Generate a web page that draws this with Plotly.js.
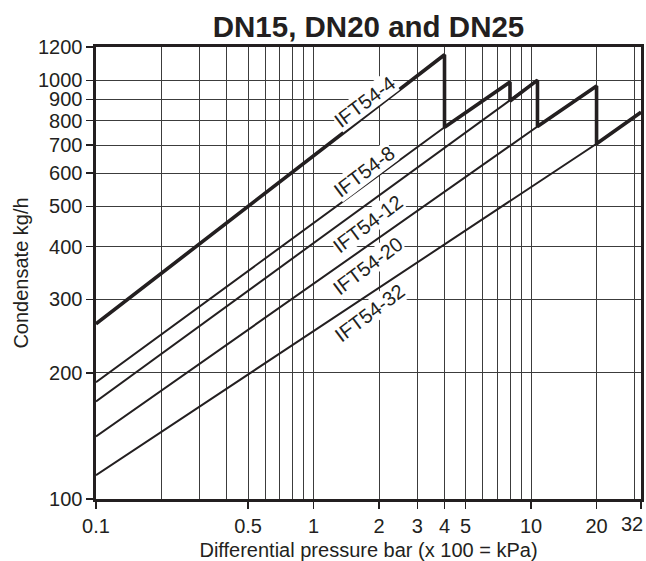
<!DOCTYPE html>
<html>
<head>
<meta charset="utf-8">
<script src="https://cdn.plot.ly/plotly-3.0.1.min.js"></script>
<style>
  html, body { margin: 0; padding: 0; background: #ffffff; }
  #chart { width: 646px; height: 561px; }
</style>
</head>
<body>
<div id="chart"></div>
<script>
// ---- data ----
const models = ['IFT54-4', 'IFT54-8', 'IFT54-12', 'IFT54-20', 'IFT54-32'];
// differential pressure (bar) points along each model's curve
const pressure4  = [0.1, 4];
const pressure8  = [0.1, 4, 8];
const pressure12 = [0.1, 8, 10.7];
const pressure20 = [0.1, 10.7, 20];
const pressure32 = [0.1, 20, 32];
// condensate capacity (kg/h) at those points
const capacity4  = [262, 1150];
const capacity8  = [190, 772, 990];
const capacity12 = [171, 892, 1000];
const capacity20 = [141, 775, 968];
const capacity32 = [114, 705, 838];

const xTickVals = [0.1, 0.5, 1, 2, 3, 4, 5, 10, 20, 32];
const xTickText = ['0.1', '0.5', '1', '2', '3', '4', '5', '10', '20', '32'];
const xGridVals = [0.2, 0.3, 0.4, 0.6, 0.7, 0.8, 0.9, 6, 7, 8, 9, 30];
const yTickVals = [100, 200, 300, 400, 500, 600, 700, 800, 900, 1000, 1200];
const yTickText = ['100', '200', '300', '400', '500', '600', '700', '800', '900', '1000', '1200'];

const pressures = [pressure4, pressure8, pressure12, pressure20, pressure32];
const capacities = [capacity4, capacity8, capacity12, capacity20, capacity32];

// ---- styling ----
const INK = '#231f20';
const GRID = '#3c3c3c';
const FONT = '"Liberation Sans", Arial, Helvetica, sans-serif';

const traces = [];
// thin line for each model
pressures.forEach((px, i) => {
  traces.push({
    x: px, y: capacities[i], type: 'scatter', mode: 'lines',
    name: models[i], line: { color: INK, width: 2 }, hoverinfo: 'x+y+name'
  });
});
// thick envelope: each model from the previous model's limit up to its own limit
const envX = [], envY = [];
pressures.forEach((px, i) => {
  const start = i === 0 ? -Infinity : pressures[i - 1][pressures[i - 1].length - 1];
  px.forEach((p, j) => {
    if (p >= start) { envX.push(p); envY.push(capacities[i][j]); }
  });
});
traces.push({
  x: envX, y: envY, type: 'scatter', mode: 'lines', name: 'max',
  line: { color: INK, width: 3.6 }, hoverinfo: 'skip'
});

// label positions (log10 of data coords)
const labelPos = [
  { x: 0.2347, y: 2.9467 },
  { x: 0.2301, y: 2.7819 },
  { x: 0.2485, y: 2.6577 },
  { x: 0.2485, y: 2.5573 },
  { x: 0.2577, y: 2.4450 }
];
const annotations = models.map((m, i) => ({
  text: m, x: labelPos[i].x, y: labelPos[i].y, xref: 'x', yref: 'y',
  showarrow: false, textangle: -37, bgcolor: '#ffffff', borderpad: 0,
  font: { family: FONT, size: 20, color: INK }
}));
// last x tick label sits at the right edge: drawn right-aligned so it stays on the page
const lastIdx = xTickVals.length - 1;
annotations.push({
  text: xTickText[lastIdx], x: Math.log10(xTickVals[lastIdx]), y: 0,
  xref: 'x', yref: 'paper', xanchor: 'right', yanchor: 'top',
  xshift: 4, yshift: -12, showarrow: false,
  font: { family: FONT, size: 20, color: INK }
});
const xTickTextShown = xTickText.map((t, i) => (i === lastIdx ? '' : t));

const layout = {
  width: 646, height: 561,
  margin: { l: 96, r: 5, t: 47, b: 62 },
  paper_bgcolor: '#ffffff', plot_bgcolor: '#ffffff',
  showlegend: false,
  font: { family: FONT, color: INK, size: 20 },
  title: {
    text: 'DN15, DN20 and DN25',
    font: { family: FONT, size: 29.5, weight: 700, color: INK },
    x: 0.5, xref: 'paper', xanchor: 'center',
    y: 1 - 27 / 561, yref: 'container', yanchor: 'middle'
  },
  xaxis: {
    type: 'log', range: [-1, 1.5053],
    tickmode: 'array', tickvals: xTickVals, ticktext: xTickTextShown,
    ticks: 'outside', ticklen: 7, tickwidth: 1.2, tickcolor: INK,
    tickfont: { family: FONT, size: 20, color: INK },
    showgrid: true, gridcolor: GRID, gridwidth: 1,
    minor: { tickmode: 'array', tickvals: xGridVals, showgrid: true, gridcolor: GRID, gridwidth: 1, ticklen: 0 },
    showline: true, linecolor: INK, linewidth: 2.6, mirror: true,
    zeroline: false, automargin: false,
    title: { text: 'Differential pressure bar (x 100 = kPa)', font: { family: FONT, size: 20, color: INK }, standoff: 12 }
  },
  yaxis: {
    type: 'log', range: [2, Math.log10(1200)],
    tickmode: 'array', tickvals: yTickVals, ticktext: yTickText,
    ticks: 'outside', ticklen: 7, tickwidth: 1.2, tickcolor: INK,
    tickfont: { family: FONT, size: 20, color: INK },
    showgrid: true, gridcolor: GRID, gridwidth: 1,
    showline: true, linecolor: INK, linewidth: 2.6, mirror: true,
    zeroline: false, automargin: false,
    title: { text: 'Condensate kg/h', font: { family: FONT, size: 20, color: INK }, standoff: 4 }
  },
  annotations: annotations
};

Plotly.newPlot('chart', traces, layout, { displayModeBar: false, staticPlot: true });
</script>
</body>
</html>
